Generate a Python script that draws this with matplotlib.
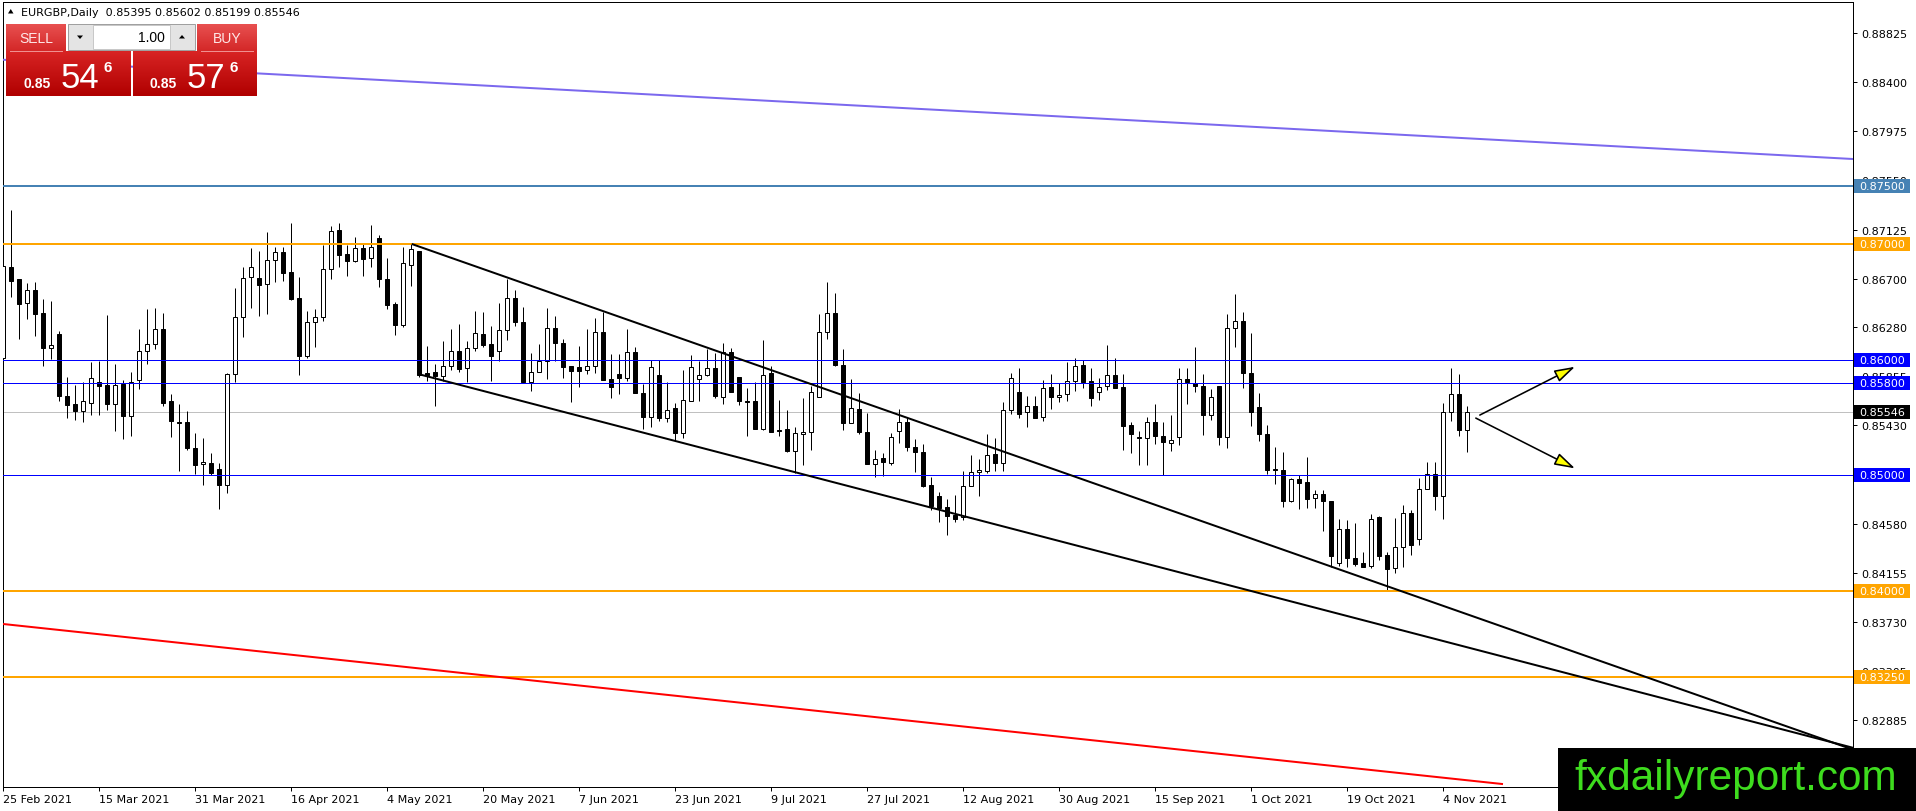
import numpy as np
import matplotlib
matplotlib.use("Agg")
import matplotlib.pyplot as plt
import matplotlib.colors as mcolors
import matplotlib.transforms as mtransforms
from matplotlib.patches import Rectangle, FancyArrowPatch, Polygon

# EURGBP daily bars, 25 Feb 2021 .. 9 Nov 2021 (index 0 = 25 Feb)
opens = [0.86011, 0.86804, 0.86697, 0.86487, 0.86599, 0.86403, 0.86097, 0.86219, 0.85685, 0.85616,
         0.85558, 0.85627, 0.85809, 0.85780, 0.85619, 0.85789, 0.85515, 0.85826, 0.86072, 0.86132,
         0.86265, 0.85642, 0.85460, 0.85457, 0.85235, 0.85094, 0.85103, 0.85051, 0.84918, 0.85873,
         0.86366, 0.86712, 0.86706, 0.86651, 0.86859, 0.86928, 0.86755, 0.86530, 0.86034, 0.86322,
         0.86366, 0.86781, 0.87121, 0.86913, 0.86856, 0.86965, 0.86876, 0.87052, 0.86694, 0.86481,
         0.86302, 0.86821, 0.86937, 0.85881, 0.85890, 0.85861, 0.85942, 0.86074, 0.85924, 0.86097,
         0.86221, 0.86135, 0.86077, 0.86256, 0.86530, 0.86322, 0.85809, 0.85890, 0.85985, 0.86270,
         0.86141, 0.85942, 0.85936, 0.85908, 0.85948, 0.86236, 0.85830, 0.85873, 0.85844, 0.86069,
         0.85715, 0.85507, 0.85864, 0.85498, 0.85579, 0.85368, 0.85645, 0.85836, 0.85864, 0.85931,
         0.85680, 0.86069, 0.85853, 0.85640, 0.85640, 0.85397, 0.85882, 0.85394, 0.85397, 0.85210,
         0.85360, 0.85377, 0.85677, 0.86242, 0.86407, 0.85954, 0.85455, 0.85576, 0.85377, 0.85100,
         0.85146, 0.85106, 0.85380, 0.85458, 0.85242, 0.85198, 0.84916, 0.84818, 0.84723, 0.84659,
         0.84636, 0.84904, 0.85025, 0.85040, 0.85184, 0.85103, 0.85567, 0.85717, 0.85544, 0.85602,
         0.85501, 0.85761, 0.85674, 0.85703, 0.85818, 0.85951, 0.85813, 0.85717, 0.85769, 0.85867,
         0.85761, 0.85435, 0.85330, 0.85322, 0.85458, 0.85337, 0.85279, 0.85331, 0.85829, 0.85795,
         0.85768, 0.85520, 0.85768, 0.85329, 0.86269, 0.86330, 0.85887, 0.85586, 0.85357, 0.85051,
         0.85048, 0.84781, 0.84970, 0.84938, 0.84802, 0.84837, 0.84779, 0.84237, 0.84533, 0.84281,
         0.84237, 0.84217, 0.84640, 0.84307, 0.84194, 0.84376, 0.84671, 0.84446, 0.84880, 0.85013,
         0.84816, 0.85548, 0.85699, 0.85395]
highs = [0.86971, 0.87297, 0.86700, 0.86663, 0.86668, 0.86524, 0.86507, 0.86247, 0.85850, 0.85780,
         0.85803, 0.85976, 0.85988, 0.86386, 0.85963, 0.85826, 0.85896, 0.86265, 0.86438, 0.86446,
         0.86403, 0.85702, 0.85616, 0.85555, 0.85365, 0.85322, 0.85192, 0.85103, 0.85881, 0.86619,
         0.86798, 0.86965, 0.86939, 0.87104, 0.86977, 0.86971, 0.87182, 0.86712, 0.86418, 0.86438,
         0.86994, 0.87159, 0.87182, 0.86994, 0.87058, 0.87000, 0.87164, 0.87081, 0.86879, 0.86495,
         0.86977, 0.87000, 0.86937, 0.86121, 0.85962, 0.86161, 0.86265, 0.86308, 0.86164, 0.86418,
         0.86415, 0.86288, 0.86490, 0.86697, 0.86602, 0.86452, 0.86054, 0.86135, 0.86446, 0.86380,
         0.86178, 0.85942, 0.86115, 0.86265, 0.86363, 0.86412, 0.86046, 0.86046, 0.86268, 0.86112,
         0.85787, 0.85997, 0.85997, 0.85810, 0.85628, 0.85908, 0.86037, 0.85986, 0.86089, 0.86061,
         0.86141, 0.86098, 0.85853, 0.85752, 0.85810, 0.86167, 0.85945, 0.85648, 0.85562, 0.85420,
         0.85671, 0.85772, 0.86398, 0.86675, 0.86574, 0.86089, 0.85830, 0.85715, 0.85542, 0.85216,
         0.85193, 0.85363, 0.85573, 0.85501, 0.85314, 0.85271, 0.84988, 0.84858, 0.84795, 0.84829,
         0.85034, 0.85175, 0.85141, 0.85357, 0.85320, 0.85631, 0.85885, 0.85928, 0.85683, 0.85683,
         0.85827, 0.85876, 0.85798, 0.85977, 0.86012, 0.85997, 0.85925, 0.85841, 0.86127, 0.86012,
         0.85876, 0.85464, 0.85380, 0.85507, 0.85616, 0.85458, 0.85517, 0.85931, 0.85931, 0.86113,
         0.85878, 0.85748, 0.85768, 0.86394, 0.86567, 0.86408, 0.86229, 0.85713, 0.85433, 0.85245,
         0.85201, 0.84975, 0.85004, 0.85158, 0.84868, 0.84868, 0.84779, 0.84622, 0.84614, 0.84585,
         0.84339, 0.84666, 0.84643, 0.84339, 0.84628, 0.84744, 0.84700, 0.84975, 0.85114, 0.85111,
         0.85621, 0.85931, 0.85873, 0.85602]
lows = [0.85948, 0.86544, 0.86178, 0.86351, 0.86207, 0.85948, 0.86005, 0.85645, 0.85492, 0.85478,
        0.85463, 0.85524, 0.85524, 0.85567, 0.85385, 0.85313, 0.85342, 0.85746, 0.85962, 0.86092,
        0.85601, 0.85333, 0.85039, 0.85218, 0.85010, 0.84918, 0.85002, 0.84705, 0.84843, 0.85803,
        0.86198, 0.86449, 0.86380, 0.86392, 0.86674, 0.86677, 0.86516, 0.85870, 0.86014, 0.86112,
        0.86331, 0.86697, 0.86804, 0.86726, 0.86841, 0.86726, 0.86804, 0.86631, 0.86438, 0.86216,
        0.86279, 0.86640, 0.85852, 0.85818, 0.85596, 0.85818, 0.85913, 0.85896, 0.85803, 0.86077,
        0.86106, 0.85818, 0.85991, 0.86170, 0.86294, 0.85803, 0.85731, 0.85890, 0.85832, 0.85985,
        0.85841, 0.85636, 0.85766, 0.85873, 0.85882, 0.85824, 0.85671, 0.85706, 0.85815, 0.85715,
        0.85397, 0.85420, 0.85469, 0.85461, 0.85296, 0.85320, 0.85645, 0.85642, 0.85859, 0.85666,
        0.85614, 0.85720, 0.85608, 0.85340, 0.85397, 0.85392, 0.85374, 0.85340, 0.85201, 0.85017,
        0.85089, 0.85219, 0.85677, 0.86176, 0.85945, 0.85392, 0.85455, 0.85354, 0.85095, 0.84988,
        0.84991, 0.85092, 0.85276, 0.85213, 0.85031, 0.84896, 0.84702, 0.84599, 0.84486, 0.84599,
        0.84616, 0.84904, 0.84824, 0.85017, 0.85040, 0.85040, 0.85530, 0.85492, 0.85415, 0.85495,
        0.85472, 0.85573, 0.85631, 0.85640, 0.85726, 0.85752, 0.85602, 0.85654, 0.85740, 0.85752,
        0.85221, 0.85190, 0.85092, 0.85092, 0.85270, 0.85002, 0.85207, 0.85259, 0.85612, 0.85719,
        0.85346, 0.85476, 0.85259, 0.85236, 0.86110, 0.85757, 0.85424, 0.85294, 0.85010, 0.84926,
        0.84729, 0.84764, 0.84706, 0.84715, 0.84715, 0.84521, 0.84208, 0.84214, 0.84208, 0.84214,
        0.84203, 0.84194, 0.84266, 0.84006, 0.84151, 0.84208, 0.84310, 0.84397, 0.84880, 0.84700,
        0.84620, 0.85467, 0.85337, 0.85199]
closes = [0.86813, 0.86683, 0.86484, 0.86599, 0.86397, 0.86103, 0.86123, 0.85682, 0.85610, 0.85558,
          0.85639, 0.85838, 0.85775, 0.85616, 0.85780, 0.85515, 0.85809, 0.86072, 0.86132, 0.86262,
          0.85627, 0.85472, 0.85455, 0.85235, 0.85091, 0.85111, 0.85016, 0.84918, 0.85873, 0.86366,
          0.86703, 0.86798, 0.86648, 0.86859, 0.86928, 0.86752, 0.86524, 0.86034, 0.86322, 0.86366,
          0.86781, 0.87110, 0.86908, 0.86856, 0.86963, 0.86873, 0.86971, 0.86694, 0.86475, 0.86302,
          0.86833, 0.86954, 0.85870, 0.85867, 0.85861, 0.85942, 0.86074, 0.85919, 0.86097, 0.86227,
          0.86129, 0.86034, 0.86256, 0.86530, 0.86322, 0.85809, 0.85890, 0.85985, 0.86270, 0.86141,
          0.85939, 0.85904, 0.85904, 0.85948, 0.86236, 0.85824, 0.85766, 0.85841, 0.86069, 0.85715,
          0.85507, 0.85939, 0.85495, 0.85567, 0.85368, 0.85654, 0.85939, 0.85870, 0.85931, 0.85686,
          0.86069, 0.85720, 0.85642, 0.85637, 0.85397, 0.85870, 0.85374, 0.85383, 0.85210, 0.85363,
          0.85377, 0.85723, 0.86242, 0.86407, 0.85954, 0.85455, 0.85585, 0.85374, 0.85095, 0.85144,
          0.85112, 0.85328, 0.85458, 0.85242, 0.85198, 0.84910, 0.84737, 0.84717, 0.84650, 0.84622,
          0.84904, 0.85025, 0.85043, 0.85175, 0.85103, 0.85567, 0.85839, 0.85530, 0.85602, 0.85495,
          0.85752, 0.85680, 0.85697, 0.85818, 0.85948, 0.85810, 0.85666, 0.85766, 0.85867, 0.85758,
          0.85429, 0.85357, 0.85322, 0.85458, 0.85337, 0.85285, 0.85302, 0.85829, 0.85806, 0.85771,
          0.85520, 0.85679, 0.85329, 0.86269, 0.86330, 0.85881, 0.85548, 0.85357, 0.85048, 0.85046,
          0.84781, 0.84967, 0.84932, 0.84796, 0.84837, 0.84773, 0.84301, 0.84533, 0.84281, 0.84232,
          0.84208, 0.84622, 0.84301, 0.84188, 0.84376, 0.84671, 0.84397, 0.84880, 0.85013, 0.84816,
          0.85548, 0.85699, 0.85390, 0.85546]

date_labels = ["25 Feb 2021", "15 Mar 2021", "31 Mar 2021", "16 Apr 2021", "4 May 2021",
               "20 May 2021", "7 Jun 2021", "23 Jun 2021", "9 Jul 2021", "27 Jul 2021",
               "12 Aug 2021", "30 Aug 2021", "15 Sep 2021", "1 Oct 2021", "19 Oct 2021",
               "4 Nov 2021"]
date_bars = [0, 12, 24, 36, 48, 60, 72, 84, 96, 108, 120, 132, 144, 156, 168, 180]

price_ticks = [0.88825, 0.88400, 0.87975, 0.87550, 0.87125, 0.86700, 0.86280, 0.85855,
               0.85430, 0.85005, 0.84580, 0.84155, 0.83730, 0.83305, 0.82885]

# horizontal levels: price, colour, line width (px)
levels = [(0.87500, "#4682B4", 2), (0.87000, "#FFA500", 2), (0.86000, "#0000FF", 1),
          (0.85800, "#0000FF", 1), (0.85000, "#0000FF", 1), (0.84000, "#FFA500", 2),
          (0.83250, "#FFA500", 2)]
bid = 0.85546

# trend lines: (bar, price) -> (bar, price)
channel_top = [(51.09, 0.87000), (231.25, 0.82626)]
channel_bottom = [(51.91, 0.85875), (231.25, 0.82642)]
purple_line = [(32.0, 0.88475), (231.25, 0.87735)]
red_line = [(0.0, 0.83713), (187.5, 0.82328)]
arrow_up = [(184.6, 0.85520), (196.5, 0.85938)]
arrow_down = [(184.1, 0.85494), (196.5, 0.85059)]

W, H = 1916, 812
PX = 0.72  # one pixel in points at dpi 100

fig = plt.figure(figsize=(W / 100, H / 100), dpi=100)
ax = fig.add_axes([3 / W, 24 / H, 1850 / W, 785 / H])
ax.set_xlim(0, 231.25)
ax.set_ylim(0.823028, 0.890932)

o = np.array(opens)
h = np.array(highs)
l = np.array(lows)
c = np.array(closes)
x = np.arange(len(o))

# candles
ax.vlines(x, l, h, color="black", lw=PX, zorder=2)
up = c >= o
face = np.where(up, "white", "black")
ax.bar(x, np.abs(c - o), bottom=np.minimum(o, c), width=0.5, color=face,
       edgecolor="black", linewidth=PX, zorder=3)

# levels
for p, col, lw in levels:
    ax.axhline(p, color=col, lw=lw * PX, zorder=4)
ax.axhline(bid, color="#C0C0C0", lw=PX, zorder=1.5)

for line, col, lw in [(purple_line, "#7B68EE", 2), (red_line, "#FF0000", 2),
                      (channel_top, "black", 2), (channel_bottom, "black", 2)]:
    (x0, y0), (x1, y1) = line
    slope = (y1 - y0) / (x1 - x0)
    xs = np.array([0.0 if col == "#7B68EE" else x0, x1])
    ax.plot(xs, y0 + slope * (xs - x0), color=col, lw=lw * PX, zorder=5,
            solid_capstyle="butt")

for (a, b) in [arrow_up, arrow_down]:
    arr = FancyArrowPatch(a, b, arrowstyle="-|>,head_length=1.25,head_width=0.38",
                          mutation_scale=10, shrinkA=0, shrinkB=0,
                          edgecolor="black", facecolor="#FFFF00", lw=1.6 * PX,
                          zorder=6, clip_on=False)
    ax.add_patch(arr)

# axes styling
for s in ax.spines.values():
    s.set_color("black")
    s.set_linewidth(PX)
ax.yaxis.tick_right()
ax.set_yticks(price_ticks)
ax.set_yticklabels(["%.5f" % v for v in price_ticks])
ax.tick_params(axis="y", direction="out", length=4 * PX, width=PX, pad=3,
               labelsize=8, colors="black")
ax.set_xticks(date_bars)
ax.set_xticklabels(date_labels, ha="left")
ax.tick_params(axis="x", direction="out", length=4 * PX, width=PX, pad=2,
               labelsize=8, colors="black")
for t in ax.get_xticklabels():
    t.set_horizontalalignment("left")

# coloured price boxes on the right scale
trans = mtransforms.blended_transform_factory(ax.transAxes, ax.transData)
box_h = 14 / 11560
boxes = [(0.87500, "#4682B4"), (0.87000, "#FFA500"), (0.86000, "#0000FF"),
         (0.85800, "#0000FF"), (bid, "#000000"), (0.85000, "#0000FF"),
         (0.84000, "#FFA500"), (0.83250, "#FFA500")]
for p, col in boxes:
    ax.add_patch(Rectangle((1851 / 1850, p - box_h / 2), 56 / 1850, box_h,
                           transform=trans, facecolor=col, edgecolor="none",
                           clip_on=False, zorder=10))
    ax.text(1856 / 1850, p, "%.5f" % p, transform=trans, color="white",
            fontsize=8, ha="left", va="center", zorder=11, clip_on=False)

# overlay in pixel coordinates for the trade panel, header and watermark
ov = fig.add_axes([0, 0, 1, 1], zorder=5)
ov.patch.set_visible(False)
ov.axis("off")


def grad_box(x0, y0, x1, y1, c_top, c_bot, z=2):
    t = np.linspace(0, 1, 64)[:, None, None]
    img = np.array(mcolors.to_rgb(c_top)) * (1 - t) + np.array(mcolors.to_rgb(c_bot)) * t
    ov.imshow(img, extent=(x0, x1, y1, y0), origin="upper", aspect="auto",
              interpolation="bilinear", zorder=z)


grad_box(6, 25, 66, 52, "#E85050", "#D42828")
grad_box(197, 25, 257, 52, "#E85050", "#D42828")
grad_box(6, 52, 131, 97, "#D82424", "#B00000")
grad_box(133, 52, 257, 97, "#D82424", "#B00000")
ov.plot([10, 62], [52, 52], color="#F09090", lw=PX, zorder=3)
ov.plot([201, 253], [52, 52], color="#F09090", lw=PX, zorder=3)

ov.add_patch(Rectangle((68, 25), 127, 26, facecolor="#E4E4E4", edgecolor="#A0A0A0",
                       lw=PX, zorder=2))
ov.add_patch(Rectangle((93, 26), 77, 24, facecolor="white", edgecolor="#C8C8C8",
                       lw=PX, zorder=3))
ov.add_patch(Polygon([(77, 36.5), (83, 36.5), (80, 40)], closed=True,
                     facecolor="black", edgecolor="none", zorder=4))
ov.add_patch(Polygon([(179, 39.5), (185, 39.5), (182, 36)], closed=True,
                     facecolor="black", edgecolor="none", zorder=4))
ov.text(165, 38.5, "1.00", fontsize=10, family="Liberation Sans", ha="right",
        va="center", color="black", zorder=5)

ov.text(36, 39, "SELL", fontsize=10, family="Liberation Sans", ha="center",
        va="center", color="#FFE8E8", zorder=5)
ov.text(227, 39, "BUY", fontsize=10, family="Liberation Sans", ha="center",
        va="center", color="#FFE8E8", zorder=5)

for x0, big in [(24, "54"), (150, "57")]:
    ov.text(x0, 88, "0.85", fontsize=10, family="Liberation Sans", weight="bold",
            color="white", ha="left", va="baseline", zorder=5)
    ov.text(x0 + 37, 88.5, big, fontsize=25, family="Liberation Sans",
            color="white", ha="left", va="baseline", zorder=5)
    ov.text(x0 + 80, 71.5, "6", fontsize=11, family="Liberation Sans", weight="bold",
            color="white", ha="left", va="baseline", zorder=5)

ov.add_patch(Polygon([(8, 14.5), (13.5, 14.5), (10.75, 10)], closed=True,
                     facecolor="black", edgecolor="none", zorder=5))
ov.text(21, 12.5, "EURGBP,Daily  0.85395 0.85602 0.85199 0.85546", fontsize=8,
        ha="left", va="center", color="black", zorder=5)

ov.add_patch(Rectangle((1558, 749), 358, 63, facecolor="black", edgecolor="none",
                       zorder=6))
ov.text(1574, 790, "fxdailyreport.com", fontsize=30.5, family="Liberation Sans",
        color="#3EDC1E", ha="left", va="baseline", zorder=7)

ov.set_xlim(0, W)
ov.set_ylim(H, 0)

fig.savefig("out.png", dpi=100)
